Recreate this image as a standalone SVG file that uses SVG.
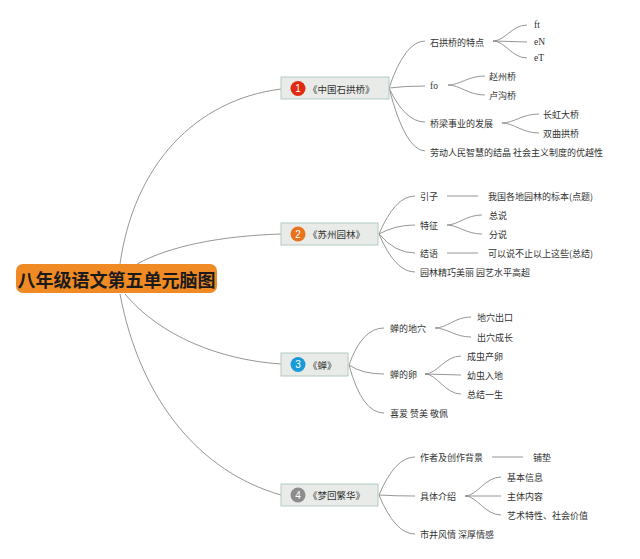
<svg xmlns="http://www.w3.org/2000/svg" width="640" height="559" viewBox="0 0 640 559">
<style>
.c{fill:none;stroke:#8a8a8a;stroke-width:0.9}
.t{font-family:"Noto Sans CJK SC","Noto Sans",sans-serif;font-size:9px;fill:#333;dominant-baseline:central}
.s{font-family:"Liberation Serif",serif;font-size:9.5px;fill:#333;dominant-baseline:central}
.box{fill:#e9ebe9;stroke:#b3cbc1;stroke-width:1}
.nt{font-family:"Noto Sans CJK SC","Noto Sans",sans-serif;font-size:9.5px;fill:#333;dominant-baseline:central}
.num{font-family:"Liberation Sans",Arial,sans-serif;font-size:10px;fill:#fff;text-anchor:middle;dominant-baseline:central}
</style>
<rect width="640" height="559" fill="#fff"/>
<g id="connectors">
<path class="c" d="M120,264 C134,165 195,100 281,89"/>
<path class="c" d="M137,264 C170,246 220,236 281,234"/>
<path class="c" d="M125,294 C160,336 220,360 281,364"/>
<path class="c" d="M120,294 C140,400 200,472 281,495"/>
<!-- node1 -->
<path class="c" d="M389,88 Q405,41 425,41"/>
<path class="c" d="M389,88 Q405,86 425,86"/>
<path class="c" d="M389,88 Q405,122 425,122"/>
<path class="c" d="M389,88 Q405,150 425,151"/>
<path class="c" d="M493,41 C505,41 512,25 527,25"/>
<path class="c" d="M493,41 L527,42"/>
<path class="c" d="M493,41 C505,41 512,58 527,58"/>
<path class="c" d="M448,85 C460,85 468,76 485,76"/>
<path class="c" d="M448,85 C460,85 468,95 485,95"/>
<path class="c" d="M502,123 C514,123 522,114 539,114"/>
<path class="c" d="M502,123 C514,123 522,133 539,133"/>
<!-- node2 -->
<path class="c" d="M379,234 Q395,196 415,196"/>
<path class="c" d="M379,234 Q395,225 415,225"/>
<path class="c" d="M379,234 Q395,253 415,253"/>
<path class="c" d="M379,234 Q395,272 415,272"/>
<path class="c" d="M447,196 L478,196"/>
<path class="c" d="M447,225 C458,225 466,215 482,215"/>
<path class="c" d="M447,225 C458,225 466,234 482,234"/>
<path class="c" d="M447,253 L478,253"/>
<!-- node3 -->
<path class="c" d="M349,365 Q362,328 384,328"/>
<path class="c" d="M349,365 Q362,374 384,374"/>
<path class="c" d="M349,365 Q362,413 384,413"/>
<path class="c" d="M435,328 C447,328 455,317 471,317"/>
<path class="c" d="M435,328 C447,328 455,337 471,337"/>
<path class="c" d="M425,374 C437,374 445,356 461,356"/>
<path class="c" d="M425,374 L461,375"/>
<path class="c" d="M425,374 C437,374 445,394 461,394"/>
<!-- node4 -->
<path class="c" d="M379,495 Q395,457 415,457"/>
<path class="c" d="M379,495 Q395,496 415,496"/>
<path class="c" d="M379,495 Q395,534 415,534"/>
<path class="c" d="M492,457 L523,457"/>
<path class="c" d="M465,496 C477,496 485,477 501,477"/>
<path class="c" d="M465,496 L501,496"/>
<path class="c" d="M465,496 C477,496 485,515 501,515"/>
</g>
<g id="central">
<rect x="16" y="264" width="201" height="29" rx="7" fill="#f08a24"/>
<text x="116.5" y="279" text-anchor="middle" style="font-family:'Noto Sans CJK SC','Noto Sans',sans-serif;font-size:18px;font-weight:bold;fill:#1a1a1a;dominant-baseline:central">八年级语文第五单元脑图</text>
</g>
<g id="node1">
<rect class="box" x="281" y="77" width="108" height="22"/>
<circle cx="298" cy="88.5" r="7.5" fill="#e02a12"/>
<text class="num" x="298" y="88.5">1</text>
<text class="nt" x="308" y="88.5">《中国石拱桥》</text>
</g>
<g id="n1a"><text class="t" x="430" y="42">石拱桥的特点</text></g>
<g id="n1a1"><text class="s" x="534" y="25">ft</text></g>
<g id="n1a2"><text class="s" x="534" y="42">eN</text></g>
<g id="n1a3"><text class="s" x="534" y="58">eT</text></g>
<g id="n1b"><text class="s" x="430" y="86">fo</text></g>
<g id="n1b1"><text class="t" x="489" y="76">赵州桥</text></g>
<g id="n1b2"><text class="t" x="489" y="95">卢沟桥</text></g>
<g id="n1c"><text class="t" x="430" y="123">桥梁事业的发展</text></g>
<g id="n1c1"><text class="t" x="543" y="114">长虹大桥</text></g>
<g id="n1c2"><text class="t" x="543" y="133">双曲拱桥</text></g>
<g id="n1d"><text class="t" x="430" y="152">劳动人民智慧的结晶 社会主义制度的优越性</text></g>
<g id="node2">
<rect class="box" x="281" y="223" width="97" height="22"/>
<circle cx="298" cy="234" r="7.5" fill="#e8731c"/>
<text class="num" x="298" y="234">2</text>
<text class="nt" x="308" y="234">《苏州园林》</text>
</g>
<g id="n2a"><text class="t" x="420" y="196">引子</text></g>
<g id="n2a1"><text class="t" x="488" y="196">我国各地园林的标本(点题)</text></g>
<g id="n2b"><text class="t" x="420" y="225">特征</text></g>
<g id="n2b1"><text class="t" x="489" y="215">总说</text></g>
<g id="n2b2"><text class="t" x="489" y="234">分说</text></g>
<g id="n2c"><text class="t" x="420" y="253">结语</text></g>
<g id="n2c1"><text class="t" x="488" y="253">可以说不止以上这些(总结)</text></g>
<g id="n2d"><text class="t" x="420" y="272">园林精巧美丽 园艺水平高超</text></g>
<g id="node3">
<rect class="box" x="281" y="353" width="67" height="23"/>
<circle cx="298" cy="364.5" r="7.5" fill="#1a9bd7"/>
<text class="num" x="298" y="364.5">3</text>
<text class="nt" x="308" y="364.5">《蝉》</text>
</g>
<g id="n3a"><text class="t" x="390" y="328">蝉的地穴</text></g>
<g id="n3a1"><text class="t" x="477" y="317">地穴出口</text></g>
<g id="n3a2"><text class="t" x="477" y="337">出穴成长</text></g>
<g id="n3b"><text class="t" x="390" y="374">蝉的卵</text></g>
<g id="n3b1"><text class="t" x="467" y="356">成虫产卵</text></g>
<g id="n3b2"><text class="t" x="467" y="375">幼虫入地</text></g>
<g id="n3b3"><text class="t" x="467" y="394">总结一生</text></g>
<g id="n3c"><text class="t" x="390" y="413">喜爱 赞美 敬佩</text></g>
<g id="node4">
<rect class="box" x="281" y="484" width="97" height="22"/>
<circle cx="298" cy="495" r="7.5" fill="#8c8c8c"/>
<text class="num" x="298" y="495">4</text>
<text class="nt" x="308" y="495">《梦回繁华》</text>
</g>
<g id="n4a"><text class="t" x="420" y="457">作者及创作背景</text></g>
<g id="n4a1"><text class="t" x="533" y="457">铺垫</text></g>
<g id="n4b"><text class="t" x="420" y="496">具体介绍</text></g>
<g id="n4b1"><text class="t" x="507" y="477">基本信息</text></g>
<g id="n4b2"><text class="t" x="507" y="496">主体内容</text></g>
<g id="n4b3"><text class="t" x="507" y="515">艺术特性、社会价值</text></g>
<g id="n4c"><text class="t" x="420" y="534">市井风情 深厚情感</text></g>
</svg>
